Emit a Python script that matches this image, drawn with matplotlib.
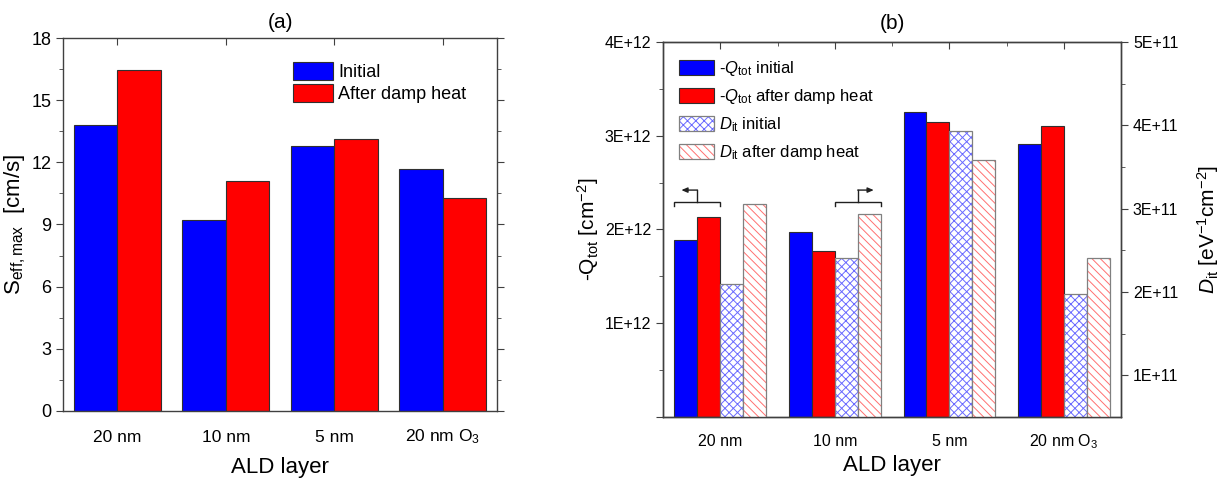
import matplotlib
matplotlib.use("Agg")
import matplotlib.pyplot as plt
from matplotlib.patches import Patch
from matplotlib.legend_handler import HandlerTuple
from matplotlib.ticker import MultipleLocator, FuncFormatter, FixedLocator
import numpy as np

plt.rcParams['font.family'] = ['Liberation Sans', 'DejaVu Sans']
plt.rcParams['mathtext.fontset'] = 'custom'
plt.rcParams['mathtext.rm'] = 'Liberation Sans'
plt.rcParams['mathtext.it'] = 'Liberation Sans:italic'
plt.rcParams['mathtext.bf'] = 'Liberation Sans:bold'
plt.rcParams['hatch.linewidth'] = 0.7

# ---- data ----
layers = ['20 nm', '10 nm', '5 nm', '20 nm O$_3$']

# panel (a): S_eff,max [cm/s]
seff_initial = [13.80, 9.21, 12.80, 11.68]
seff_damp = [16.44, 11.12, 13.14, 10.27]

# panel (b): -Q_tot [cm^-2] and D_it [eV^-1 cm^-2]
qtot_initial = [1.89e12, 1.975e12, 3.25e12, 2.91e12]
qtot_damp = [2.13e12, 1.77e12, 3.145e12, 3.105e12]
dit_initial = [2.10e11, 2.41e11, 3.93e11, 1.97e11]
dit_damp = [3.06e11, 2.93e11, 3.58e11, 2.41e11]

BLUE = '#0000ff'
RED = '#ff0000'
EDGE = '#303030'
SPINE = '#404040'
HATCH_EDGE = '#808080'
HATCH_BLUE = '#6a6aff'
HATCH_RED = '#ff7070'

x = np.arange(1, len(layers) + 1)

fig = plt.figure(figsize=(12.29, 4.8), dpi=100)
axa = fig.add_axes([0.0513, 0.1438, 0.3531, 0.7770])
axb = fig.add_axes([0.5395, 0.1313, 0.3727, 0.7813])


def style_spines(ax):
    for s in ax.spines.values():
        s.set_color(SPINE)
        s.set_linewidth(1.0)


# ---------------- panel (a) ----------------
w = 0.4
axa.bar(x - w / 2, seff_initial, w, color=BLUE, edgecolor=EDGE, linewidth=0.8, label='Initial')
axa.bar(x + w / 2, seff_damp, w, color=RED, edgecolor=EDGE, linewidth=0.8, label='After damp heat')
axa.set_xlim(0.5, 4.5)
axa.set_ylim(0, 18)
axa.set_xticks(x)
axa.set_xticklabels(layers, fontsize=12.5, va='baseline')
axa.yaxis.set_major_locator(MultipleLocator(3))
axa.yaxis.set_minor_locator(MultipleLocator(1.5))
axa.tick_params(axis='y', which='major', direction='out', length=5, labelsize=13,
                right=True, color=SPINE)
axa.tick_params(axis='y', which='minor', direction='out', length=3, right=True, color=SPINE)
axa.tick_params(axis='x', which='major', direction='in', length=5, bottom=False, top=True,
                color=SPINE, pad=22)
style_spines(axa)
axa.set_xlabel('ALD layer', fontsize=16, labelpad=8)
axa.set_ylabel(r'$\mathrm{S_{eff,max}}$  [cm/s]', fontsize=16, labelpad=2)
axa.set_title('(a)', fontsize=15, pad=7)
axa.legend(loc='upper left', bbox_to_anchor=(0.53, 0.935), frameon=False, fontsize=13,
           handlelength=2.2, handleheight=1.15, labelspacing=0.15, handletextpad=0.3,
           borderpad=0, borderaxespad=0)

# ---------------- panel (b) ----------------
wb = 0.2
axb2 = axb.twinx()
axb.bar(x - 1.5 * wb, qtot_initial, wb, color=BLUE, edgecolor=EDGE, linewidth=0.8)
axb.bar(x - 0.5 * wb, qtot_damp, wb, color=RED, edgecolor=EDGE, linewidth=0.8)

axb2.bar(x + 0.5 * wb, dit_initial, wb, color='white', edgecolor=HATCH_BLUE, hatch='xxxx', linewidth=0)
axb2.bar(x + 0.5 * wb, dit_initial, wb, fill=False, edgecolor=HATCH_EDGE, linewidth=0.9)
axb2.bar(x + 1.5 * wb, dit_damp, wb, color='white', edgecolor=HATCH_RED, hatch='\\\\\\\\', linewidth=0)
axb2.bar(x + 1.5 * wb, dit_damp, wb, fill=False, edgecolor=HATCH_EDGE, linewidth=0.9)

axb.set_xlim(0.5, 4.5)
axb.set_ylim(0, 4e12)
axb2.set_ylim(0.5e11, 5e11)


def sci_fmt(v, pos):
    if v <= 0:
        return ''
    e = int(np.floor(np.log10(v) + 1e-9))
    return f"{v / 10 ** e:.0f}E+{e}"


axb.yaxis.set_major_locator(MultipleLocator(1e12))
axb.yaxis.set_minor_locator(MultipleLocator(0.5e12))
axb.yaxis.set_major_formatter(FuncFormatter(sci_fmt))
axb2.yaxis.set_major_locator(FixedLocator([1e11, 2e11, 3e11, 4e11, 5e11]))
axb2.yaxis.set_minor_locator(FixedLocator([1.5e11, 2.5e11, 3.5e11, 4.5e11]))
axb2.yaxis.set_major_formatter(FuncFormatter(sci_fmt))
axb.set_xticks(x)
axb.set_xticklabels(layers, fontsize=11.5, va='baseline')
axb.xaxis.set_minor_locator(FixedLocator([1.5, 2.5, 3.5]))
axb.tick_params(axis='x', which='major', direction='in', length=5, bottom=False, top=True,
                color=SPINE, pad=21)
axb.tick_params(axis='x', which='minor', direction='in', length=3, bottom=False, top=True,
                color=SPINE)
axb.tick_params(axis='y', which='major', direction='out', length=5, labelsize=11.5, color=SPINE)
axb.tick_params(axis='y', which='minor', direction='out', length=3, color=SPINE)
axb2.tick_params(axis='y', which='major', direction='out', length=5, labelsize=11.5, color=SPINE)
axb2.tick_params(axis='y', which='minor', direction='out', length=3, color=SPINE)
style_spines(axb)
style_spines(axb2)

axb.set_xlabel('ALD layer', fontsize=16, labelpad=3)
axb.set_ylabel(r'-$\mathrm{Q_{tot}}$ [cm$^{-2}$]', fontsize=15, labelpad=3)
axb2.set_ylabel(r'$D_{\mathrm{it}}$ [eV$^{-1}$cm$^{-2}$]', fontsize=15, labelpad=12)
axb.set_title('(b)', fontsize=15, pad=9)

# brackets marking which axis each pair of bars belongs to
ytip, ybar, ytop = 2.245e12, 2.29e12, 2.42e12
for x0, x1, xhead in [(0.6, 1.0, 0.66), (2.0, 2.4, 2.34)]:
    xc = (x0 + x1) / 2
    axb.plot([x0, x0, x1, x1], [ytip, ybar, ybar, ytip], color='#202020', lw=1.0,
             solid_joinstyle='miter')
    axb.plot([xc, xc], [ybar, ytop], color='#202020', lw=1.0, solid_joinstyle='round')
    axb.annotate('', xy=(xhead, ytop), xytext=(xc, ytop),
                 arrowprops=dict(arrowstyle='-|>,head_length=0.35,head_width=0.15',
                                 color='#202020', lw=1.0, shrinkA=0, shrinkB=0))

# legend
h_qi = Patch(facecolor=BLUE, edgecolor=EDGE, linewidth=0.8)
h_qd = Patch(facecolor=RED, edgecolor=EDGE, linewidth=0.8)
h_di = (Patch(facecolor='white', edgecolor=HATCH_BLUE, hatch='xxxx', linewidth=0),
        Patch(fill=False, edgecolor=HATCH_EDGE, linewidth=0.9))
h_dd = (Patch(facecolor='white', edgecolor=HATCH_RED, hatch='\\\\\\\\', linewidth=0),
        Patch(fill=False, edgecolor=HATCH_EDGE, linewidth=0.9))
axb2.legend([h_qi, h_qd, h_di, h_dd],
            [r'-$Q_{\mathrm{tot}}$ initial', r'-$Q_{\mathrm{tot}}$ after damp heat',
             r'$D_{\mathrm{it}}$ initial', r'$D_{\mathrm{it}}$ after damp heat'],
            handler_map={tuple: HandlerTuple(ndivide=1, pad=0)},
            loc='upper left', bbox_to_anchor=(0.035, 0.955), frameon=False, fontsize=12,
            handlelength=2.1, handleheight=1.0, labelspacing=0.55, handletextpad=0.3,
            borderpad=0, borderaxespad=0)

fig.savefig('out.png', dpi=100)
